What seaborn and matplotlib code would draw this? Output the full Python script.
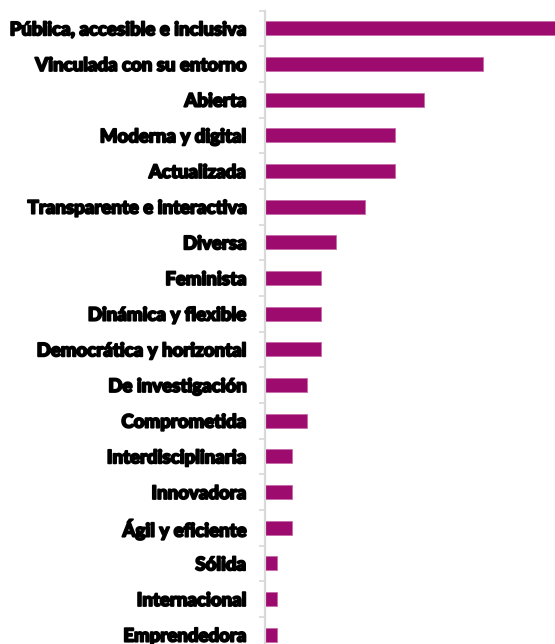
import matplotlib
matplotlib.use("Agg")
import matplotlib.pyplot as plt
import matplotlib.patheffects as pe
import seaborn as sns
import pandas as pd
import numpy as np
from matplotlib.ticker import FixedLocator

categories = [
    "Pública, accesible e inclusiva",
    "Vinculada con su entorno",
    "Abierta",
    "Moderna y digital",
    "Actualizada",
    "Transparente e interactiva",
    "Diversa",
    "Feminista",
    "Dinámica y flexible",
    "Democrática y horizontal",
    "De investigación",
    "Comprometida",
    "Interdisciplinaria",
    "Innovadora",
    "Ágil y eficiente",
    "Sólida",
    "Internacional",
    "Emprendedora",
]
values = [20, 15, 11, 9, 9, 7, 5, 4, 4, 4, 3, 3, 2, 2, 2, 1, 1, 1]

bar_color = "#9E0B6F"

sns.set_theme(style="white")
plt.rcParams["font.family"] = ["Lato", "DejaVu Sans"]

df = pd.DataFrame({"categoria": categories, "valor": values})

W, H = 555, 644
fig = plt.figure(figsize=(W / 100, H / 100), dpi=100)
left_px, top_px, bottom_px = 264.5, 10.5, 652.5
xmin, xmax, scale = 0.14, 20.3, 14.7
right_px = left_px + (xmax - xmin) * scale
ax = fig.add_axes([left_px / W, (H - bottom_px) / H,
                   (right_px - left_px) / W, (bottom_px - top_px) / H])

sns.barplot(data=df, x="valor", y="categoria", orient="h", color=bar_color,
            saturation=1, width=0.385, ax=ax, edgecolor="#C86AA8", linewidth=0.6)

ax.set_xlim(xmin, xmax)
ax.set_ylim(len(categories) - 0.5, -0.5)
ax.set_xlabel("")
ax.set_ylabel("")
ax.set_xticks([])
for s in ["top", "right", "bottom"]:
    ax.spines[s].set_visible(False)
ax.spines["left"].set_color("#D9D9D9")
ax.spines["left"].set_linewidth(1.6)
ax.spines["left"].set_zorder(5)

ax.yaxis.set_minor_locator(FixedLocator(np.arange(-0.5, len(categories), 1.0)))
ax.tick_params(axis="y", which="major", length=0, pad=13.0)
ax.tick_params(axis="y", which="minor", left=True, length=4.5, width=1.2, color="#D9D9D9")
for lab in ax.get_yticklabels():
    lab.set_fontsize(13.4)
    lab.set_fontweight("black")
    lab.set_color("#000000")
    lab.set_path_effects([pe.withStroke(linewidth=1.3, foreground="#000000")])

fig.savefig("out.png", dpi=100)
